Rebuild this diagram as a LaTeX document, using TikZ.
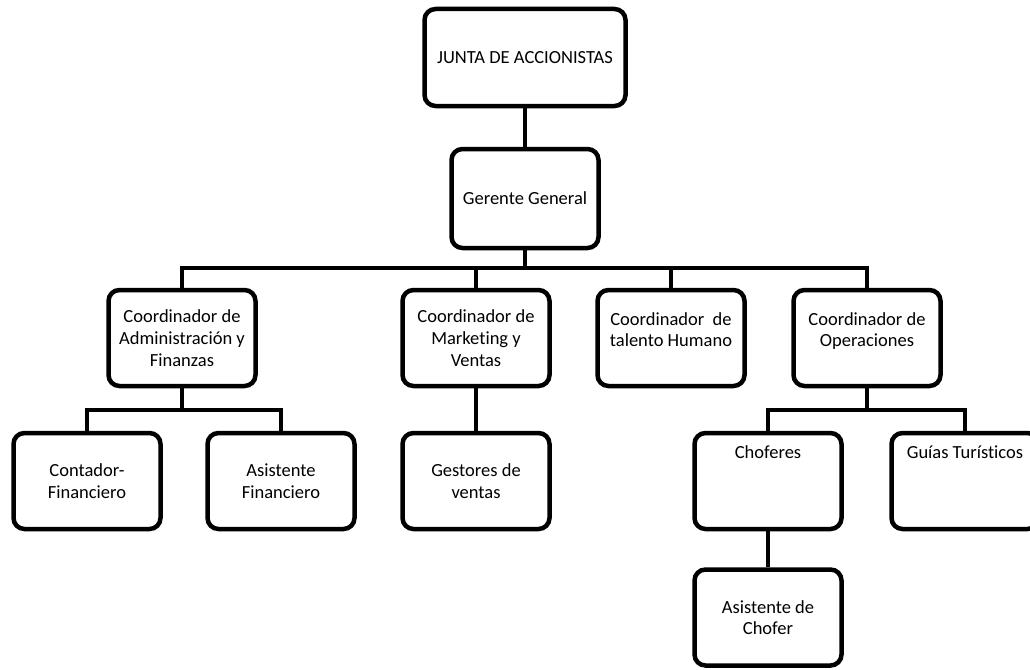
\documentclass[tikz,border=0pt]{standalone}
\usepackage{fontspec}
\setmainfont{Carlito}[Ligatures=NoCommon]
\usepackage{tikz}

\begin{document}
\begin{tikzpicture}[x=1pt,y=-1pt,
  caja/.style={draw,line width=4.5pt,rounded corners=11pt,
    minimum width=147pt,minimum height=96pt,align=center,
    font=\fontsize{18.5}{21.7}\selectfont},
  arriba/.style={text depth=#1},
  linea/.style={line width=4.5pt}]
  \useasboundingbox (0,0) rectangle (1030,669);
  \clip (0,0) rectangle (1030,669);
  % Direccion
  \node[caja,minimum width=201pt,minimum height=97pt] (junta) at (525,57.5) {JUNTA DE ACCIONISTAS};
  \node[caja,minimum height=99pt] (gerente) at (525,198.5) {Gerente General};
  % Coordinadores
  \node[caja] (admin)   at (182,338) {Coordinador de\\Administración y\\Finanzas};
  \node[caja] (mkt)     at (476,338) {Coordinador de\\Marketing y\\Ventas};
  \node[caja,arriba=17pt] (talento) at (671,338) {Coordinador~ de\\talento Humano};
  \node[caja,arriba=17pt] (ops)     at (867,338) {Coordinador de\\Operaciones};
  % Personal
  \node[caja] (contador) at (87,481)  {Contador-\\Financiero};
  \node[caja] (asisfin)  at (281,481) {Asistente\\Financiero};
  \node[caja] (gestores) at (476,481) {Gestores de\\ventas};
  \node[caja,arriba=57pt] (choferes) at (768,481) {Choferes};
  \node[caja,arriba=57pt] (guias)    at (965,481) {Guías Turísticos};
  \node[caja] (asischofer) at (768,617.5) {Asistente de\\Chofer};
  % Barras de conexion
  \coordinate (bus1) at (525,268);
  \coordinate (bus2) at (182,410);
  \coordinate (bus3) at (867,410);
  \draw[linea] (junta) -- (gerente);
  \draw[linea] (gerente.south) -- (bus1);
  \draw[linea] (admin.north) |- (bus1) -| (ops.north);
  \draw[linea] (mkt.north) -- (mkt.north |- bus1);
  \draw[linea] (talento.north) -- (talento.north |- bus1);
  \draw[linea] (admin.south) -- (bus2);
  \draw[linea] (contador.north) |- (bus2) -| (asisfin.north);
  \draw[linea] (mkt) -- (gestores);
  \draw[linea] (ops.south) -- (bus3);
  \draw[linea] (choferes.north) |- (bus3) -| (guias.north);
  \draw[linea] (choferes) -- (asischofer);
\end{tikzpicture}
\end{document}
